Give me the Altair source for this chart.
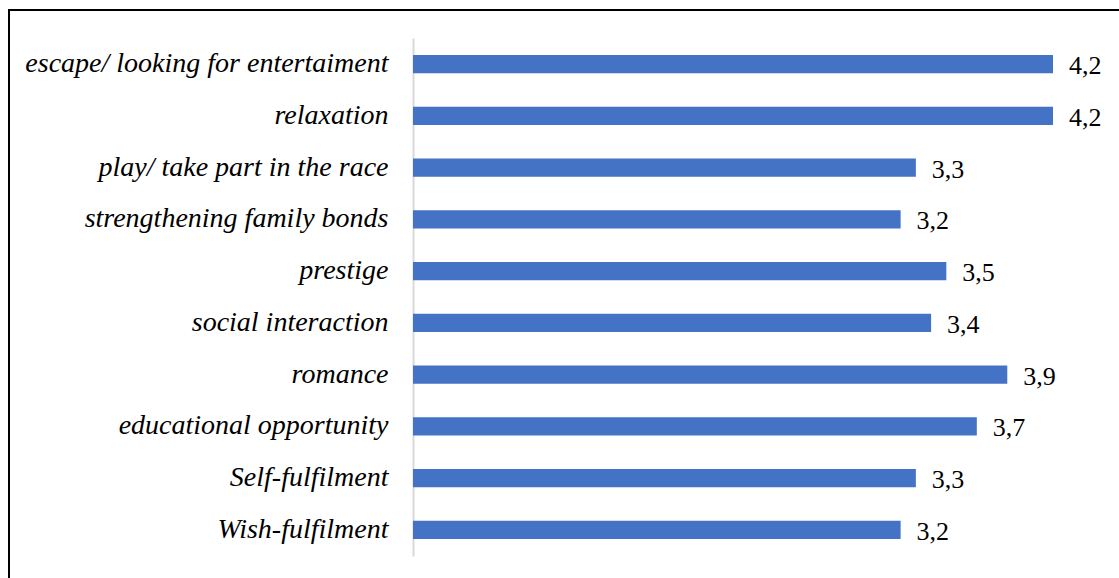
import altair as alt
import pandas as pd

categories = [
    "escape/ looking for entertaiment",
    "relaxation",
    "play/ take part in the race",
    "strengthening family bonds",
    "prestige",
    "social interaction",
    "romance",
    "educational opportunity",
    "Self-fulfilment",
    "Wish-fulfilment",
]
values = [4.2, 4.2, 3.3, 3.2, 3.5, 3.4, 3.9, 3.7, 3.3, 3.2]

df = pd.DataFrame({
    "category": categories,
    "value": values,
    "label": [f"{v:.1f}".replace(".", ",") for v in values],
})

W, H = 640, 518
SERIF = "Liberation Serif"

y_enc = alt.Y(
    "category:N", sort=None, title=None,
    scale=alt.Scale(paddingInner=0.65, paddingOuter=0.33),
    axis=alt.Axis(
        labelFont=SERIF, labelFontStyle="italic", labelFontSize=28,
        labelColor="#000000", labelPadding=25, ticks=False,
        domainColor="#d9d9d9", domainWidth=2, labelLimit=420,
    ),
)
x_enc = alt.X("value:Q", axis=None, scale=alt.Scale(domain=[0, 4.2], nice=False, zero=True))

bars = alt.Chart(df).mark_bar(color="#4472C4").encode(x=x_enc, y=y_enc)
text = alt.Chart(df).mark_text(
    align="left", baseline="middle", dx=16, dy=2,
    font=SERIF, fontSize=26, color="#000000",
).encode(x=x_enc, y=alt.Y("category:N", sort=None), text="label:N")

border = alt.Chart(df).mark_rect(
    fill=None, stroke="#000000", strokeWidth=2
).encode(
    x=alt.value(-404), x2=alt.value(740), y=alt.value(-28), y2=alt.value(620)
)

chart = alt.layer(bars, text, border).properties(
    width=W, height=H,
    autosize=alt.AutoSizeParams(type="none"),
    padding={"left": 413, "top": 38, "right": 66, "bottom": 22},
).configure(background="white", font=SERIF).configure_view(stroke=None, strokeWidth=0)

chart.save("out.html", embed_options={"renderer": "svg", "actions": False})
